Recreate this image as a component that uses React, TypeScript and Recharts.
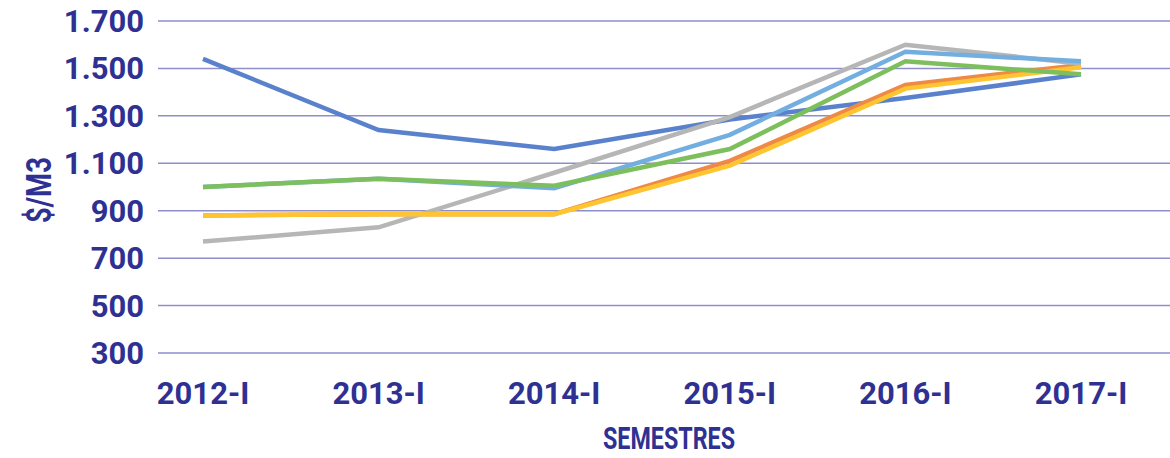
import { CartesianGrid, Line, LineChart, XAxis, YAxis } from "recharts";

const semesters = ["2012-I", "2013-I", "2014-I", "2015-I", "2016-I", "2017-I"];
const serieBlue = [1540, 1240, 1160, 1285, 1375, 1475];
const serieOrange = [880, 885, 885, 1110, 1430, 1515];
const serieGray = [770, 830, 1060, 1295, 1600, 1520];
const serieYellow = [880, 885, 885, 1090, 1415, 1505];
const serieLightBlue = [1000, 1035, 995, 1220, 1570, 1530];
const serieGreen = [1000, 1035, 1005, 1160, 1530, 1475];
const yTicks = [300, 500, 700, 900, 1100, 1300, 1500, 1700];

const data = semesters.map((s, i) => ({
  semestre: s,
  blue: serieBlue[i],
  orange: serieOrange[i],
  gray: serieGray[i],
  yellow: serieYellow[i],
  lightBlue: serieLightBlue[i],
  green: serieGreen[i],
}));

const NAVY = "#2e3192";
const FONT = "Roboto, 'Noto Sans', sans-serif";

const formatTick = (v: number) => v.toLocaleString("de-DE");

const YTitle = () => (
  <text
    x={39}
    y={190}
    transform="rotate(-90 39 190)"
    textAnchor="middle"
    dominantBaseline="central"
    fill={NAVY}
    fontFamily={FONT}
    fontWeight={700}
    fontSize={35}
    textLength={66}
    lengthAdjust="spacingAndGlyphs"
  >
    $/M3
  </text>
);

const XTitle = () => (
  <text
    x={669}
    y={449}
    textAnchor="middle"
    fill={NAVY}
    fontFamily={FONT}
    fontWeight={700}
    fontSize={32}
    textLength={132}
    lengthAdjust="spacingAndGlyphs"
  >
    SEMESTRES
  </text>
);

const lines = [
  { key: "blue", color: "#5a82cc" },
  { key: "orange", color: "#ee8a46" },
  { key: "gray", color: "#b6b6b6" },
  { key: "yellow", color: "#fec530" },
  { key: "lightBlue", color: "#72aee0" },
  { key: "green", color: "#7dbf5c" },
];

export default function App() {
  const tickStyle = { fill: NAVY, fontFamily: FONT, fontWeight: 700, fontSize: 31 };
  return (
    <div style={{ position: "absolute", left: 0, top: 0, background: "#fff" }}>
      <LineChart width={1170} height={458} data={data} margin={{ top: 21, right: 0, left: 0, bottom: 0 }}>
        <CartesianGrid vertical={false} stroke="#8e8ecb" strokeWidth={1.5} />
        <XAxis
          dataKey="semestre"
          scale="point"
          padding={{ left: 45, right: 89 }}
          axisLine={false}
          tickLine={false}
          tickSize={0}
          tickMargin={29}
          height={105}
          tick={tickStyle}
          interval={0}
          label={<XTitle />}
        />
        <YAxis
          domain={[300, 1700]}
          ticks={yTicks}
          tickFormatter={formatTick}
          axisLine={false}
          tickLine={false}
          tickSize={0}
          tickMargin={14}
          width={158}
          tick={tickStyle}
          interval={0}
          label={<YTitle />}
        />
        {lines.map((l) => (
          <Line
            key={l.key}
            type="linear"
            dataKey={l.key}
            stroke={l.color}
            strokeWidth={4.5}
            dot={false}
            isAnimationActive={false}
          />
        ))}
      </LineChart>
    </div>
  );
}
